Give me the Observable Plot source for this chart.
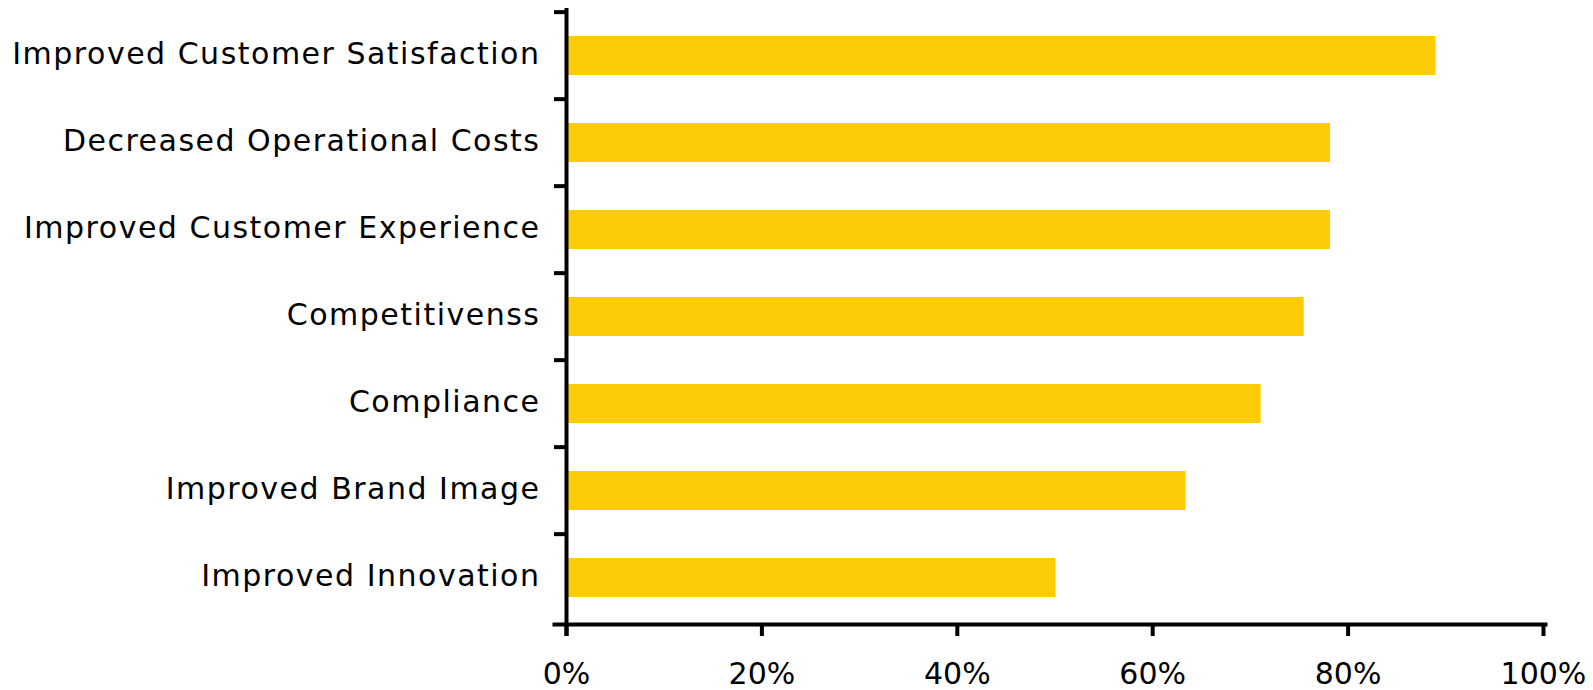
<!DOCTYPE html>
<html>
<head>
<meta charset="utf-8">
<script src="https://cdn.jsdelivr.net/npm/d3@7"></script>
<script src="https://cdn.jsdelivr.net/npm/@observablehq/plot@0.6"></script>
<style>
  html, body { margin: 0; padding: 0; background: #ffffff; }
  .ylabels text { letter-spacing: 1.5px; }
</style>
</head>
<body>
<div id="chart"></div>
<script>
const categories = [
  "Improved Customer Satisfaction",
  "Decreased Operational Costs",
  "Improved Customer Experience",
  "Competitivenss",
  "Compliance",
  "Improved Brand Image",
  "Improved Innovation"
];
const values = [89, 78.2, 78.2, 75.5, 71.1, 63.4, 50.1];
const xTicks = [0, 20, 40, 60, 80, 100];

const data = categories.map((c, i) => ({category: c, value: values[i]}));

const W = 1593, H = 690, mTop = 10, mBottom = 66, mLeft = 566, mRight = 50;
const step = (H - mTop - mBottom) / categories.length;

const chart = Plot.plot({
  width: W,
  height: H,
  marginLeft: mLeft,
  marginRight: mRight,
  marginTop: mTop,
  marginBottom: mBottom,
  style: {fontFamily: "DejaVu Sans", fontSize: "30px", color: "#000", background: "#ffffff"},
  x: {domain: [0, 100], label: null},
  y: {domain: categories, paddingInner: 0.55, paddingOuter: 0.275, label: null},
  marks: [
    Plot.barX(data, {x: "value", y: "category", fill: "#FDCC06"}),
    Plot.axisY({tickSize: 0, tickPadding: 26, dy: -2, fontSize: 30, label: null, className: "ylabels"}),
    Plot.axisY({tickSize: 12, tickFormat: () => "", strokeWidth: 4, dy: -step / 2, label: null}),
    Plot.axisX({ticks: xTicks, tickSize: 12, tickPadding: 26, strokeWidth: 4, fontSize: 30, tickFormat: d => d + "%", label: null}),
    Plot.ruleX([0], {strokeWidth: 4, insetTop: -2, insetBottom: -12}),
    Plot.frame({anchor: "bottom", strokeWidth: 4, insetLeft: -12, insetRight: -2})
  ]
});
document.getElementById("chart").appendChild(chart);
</script>
</body>
</html>
